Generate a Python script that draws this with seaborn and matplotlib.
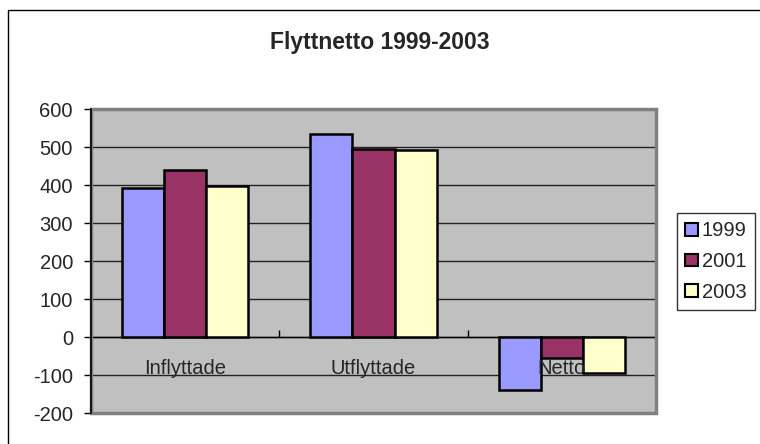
import matplotlib
matplotlib.use("Agg")
import matplotlib.pyplot as plt
import seaborn as sns
import pandas as pd
from matplotlib.patches import Rectangle

categories = ["Inflyttade", "Utflyttade", "Netto"]
years = ["1999", "2001", "2003"]
v1999 = [392, 534, -140]
v2001 = [440, 496, -54]
v2003 = [398, 492, -94]
yticks = [-200, -100, 0, 100, 200, 300, 400, 500, 600]

colors = ["#9999FF", "#993366", "#FFFFCC"]

rows = []
for yr, vals in zip(years, [v1999, v2001, v2003]):
    for c, v in zip(categories, vals):
        rows.append({"kategori": c, "år": yr, "antal": v})
df = pd.DataFrame(rows)

sns.set_style("white")
plt.rcParams["font.family"] = ["Liberation Sans", "DejaVu Sans"]

fig = plt.figure(figsize=(7.6, 4.44), dpi=100)
ax = fig.add_axes([91 / 760, 31 / 444, 565 / 760, 304 / 444])
ax.set_facecolor("#C0C0C0")

sns.barplot(data=df, x="kategori", y="antal", hue="år", order=categories,
            hue_order=years, palette=colors, saturation=1, width=0.67, gap=0,
            edgecolor="black", linewidth=1.8, ax=ax, zorder=3)

ax.set_ylim(-200, 600)
ax.set_xlim(-0.5, 2.5)
ax.set_yticks(yticks)
ax.set_yticklabels([str(t) for t in yticks], fontsize=14.5)
ax.yaxis.grid(True, color="#222222", linewidth=1)
ax.set_axisbelow(True)
ax.set_xlabel("")
ax.set_ylabel("")

# x axis at zero, boundaries as ticks
ax.spines["bottom"].set_position(("data", 0))
ax.spines["bottom"].set_color("black")
ax.spines["bottom"].set_linewidth(1)
ax.set_xticks([-0.5, 0.5, 1.5, 2.5])
ax.set_xticklabels([])
ax.tick_params(axis="x", direction="in", length=5, width=1, color="black", bottom=True)
ax.tick_params(axis="y", direction="out", length=5, width=1, color="black", left=True, pad=8)
for s in ["top", "right"]:
    ax.spines[s].set_visible(False)
ax.spines["left"].set_color("black")
ax.spines["left"].set_linewidth(1.2)
ax.spines["left"].set_zorder(5)

# gray plot border
ax.add_patch(Rectangle((0, 0), 1, 1, transform=ax.transAxes, fill=False,
                       edgecolor="#808080", linewidth=2.5, zorder=4, clip_on=False))

for i, c in enumerate(categories):
    ax.text(i, -82, c, ha="center", va="center", fontsize=14.5, zorder=6)

leg = ax.legend(loc="upper left", bbox_to_anchor=(677 / 760, 1 - 213 / 444),
                bbox_transform=fig.transFigure, fontsize=14.5, frameon=True,
                fancybox=False, edgecolor="black", handlelength=0.6,
                handleheight=0.6, handletextpad=0.2, labelspacing=0.58,
                borderpad=0.42, borderaxespad=0)
leg.get_frame().set_linewidth(1)
for h in leg.legend_handles:
    h.set_edgecolor("black")
    h.set_linewidth(1.5)

fig.text(380 / 760, 1 - 43 / 444, "Flyttnetto 1999-2003", ha="center", va="center",
         fontsize=16.5, fontweight="bold")

# chart border (right and bottom edges fall outside the picture)
fig.patches.append(Rectangle((8 / 760, -20 / 444), 800 / 760, 454 / 444,
                             transform=fig.transFigure, fill=False,
                             edgecolor="black", linewidth=1))

fig.savefig("out.png", dpi=100)
